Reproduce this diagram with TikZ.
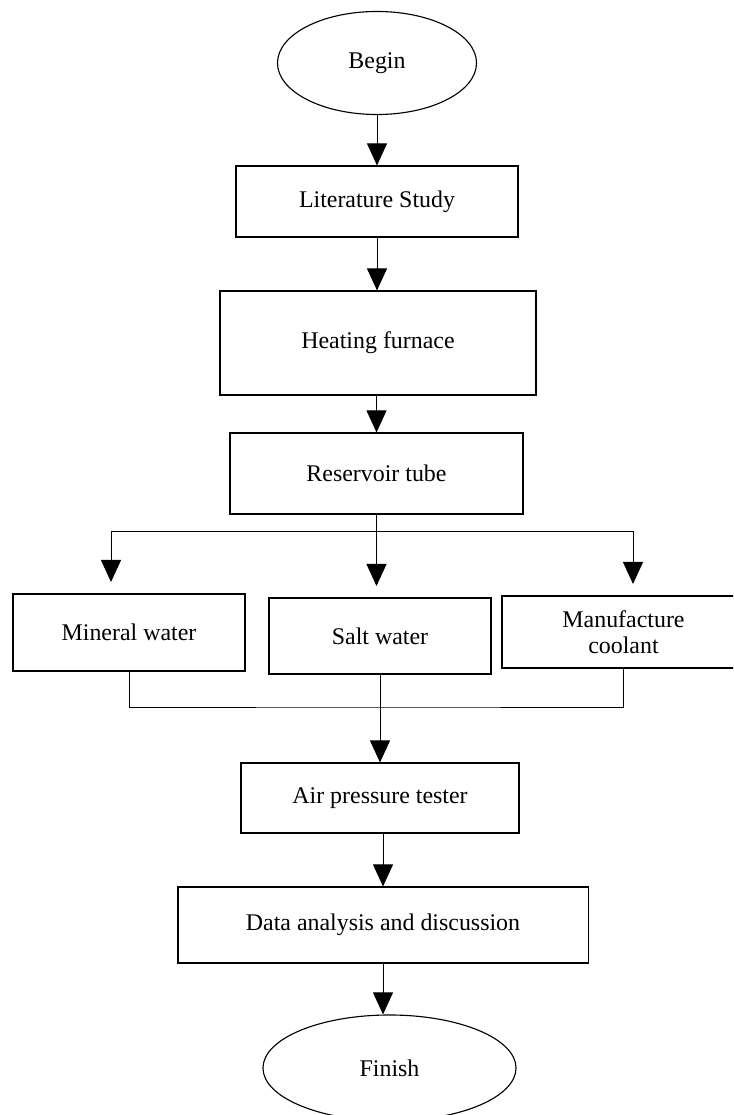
\documentclass[tikz,border=0pt]{standalone}
\usepackage{fontspec}
\setmainfont{Liberation Serif}
\usetikzlibrary{shapes.geometric,arrows.meta}

\tikzset{
  stepbox/.style={draw,rectangle,line width=0.8pt,align=center,font=\fontsize{17}{18.5}\selectfont},
  termbox/.style={draw,ellipse,line width=0.8pt,font=\fontsize{17}{21}\selectfont},
  arr/.style={line width=0.6pt,-{Triangle[width=0.5cm,length=0.55cm]}},
  link/.style={line width=0.6pt}
}

\begin{document}
\begin{tikzpicture}[x=0.025cm,y=-0.025cm]
  \useasboundingbox (0,0) rectangle (733,1115);
  \clip (0,0) rectangle (733,1115);
  % main column
  \node[termbox,minimum width=4.975cm,minimum height=2.575cm] (begin) at (377,63) {Begin};
  \node[stepbox,minimum width=7.05cm,minimum height=1.775cm] (lit) at (377,201.5) {Literature Study};
  \node[stepbox,minimum width=7.9cm,minimum height=2.6cm] (heat) at (378,343) {Heating furnace};
  \node[stepbox,minimum width=7.325cm,minimum height=2.025cm] (res) at (376.5,473.5) {Reservoir tube};
  % three coolants
  \node[stepbox,minimum width=5.8cm,minimum height=1.925cm] (mineral) at (129,632.5) {Mineral water};
  \node[stepbox,minimum width=5.55cm,minimum height=1.9cm] (salt) at (380,636) {Salt water};
  \node[stepbox,minimum width=6.075cm,minimum height=1.8cm,inner sep=0pt] (manu) at (623.5,632) {Manufacture\\coolant};
  % rest
  \node[stepbox,minimum width=6.95cm,minimum height=1.75cm] (air) at (380,798) {Air pressure tester};
  \node[stepbox,minimum width=10.25cm,minimum height=1.9cm] (data) at (383,925) {Data analysis and discussion};
  \node[termbox,minimum width=6.325cm,minimum height=2.65cm] (finish) at (389.5,1068) {Finish};

  \coordinate (split) at (376.5,531);
  \coordinate (fL) at (111,582);
  \coordinate (fM) at (376.5,586);
  \coordinate (fR) at (633,584);
  \coordinate (merge) at (380,707);

  \draw[arr] (begin.south) -- (lit.north);
  \draw[arr] (lit.south) -- (lit.south |- heat.north);
  \draw[arr] (heat.south -| res) -- (res.north);
  \draw[arr] (res.south) -- (fM);
  \draw[arr] (split) -| (fL);
  \draw[arr] (split) -| (fR);
  \draw[link] (mineral.south) |- (merge) -| (manu.south);
  \draw[arr] (salt.south) -- (air.north);
  \draw[arr] (air.south -| data) -- (data.north);
  \draw[arr] (data.south) -- (data.south |- finish.north);
\end{tikzpicture}
\end{document}
